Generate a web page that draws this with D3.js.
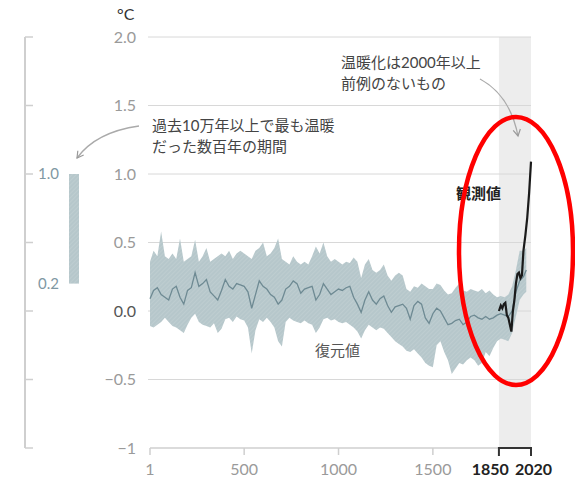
<!DOCTYPE html>
<html>
<head>
<meta charset="utf-8">
<script src="https://cdn.jsdelivr.net/npm/d3@7"></script>
<style>
  body { margin: 0; background: #fff; }
  svg text { font-family: Lato, "Noto Sans CJK JP", sans-serif; }
</style>
</head>
<body>
<div id="chart"></div>
<script>
// reconstruction (復元値): year, upper, median, lower
const years = [1, 20, 40, 60, 80, 100, 120, 140, 160, 180, 200, 220, 240, 260, 280, 300, 320, 340, 360, 380,
    400, 420, 440, 460, 480, 500, 520, 540, 560, 580, 600, 620, 640, 660, 680, 700, 720, 740, 760, 780,
    800, 820, 840, 860, 880, 900, 920, 940, 960, 980, 1000, 1020, 1040, 1060, 1080, 1100, 1120, 1140, 1160, 1180,
    1200, 1220, 1240, 1260, 1280, 1300, 1320, 1340, 1360, 1380, 1400, 1420, 1440, 1460, 1480, 1500, 1520, 1540, 1560, 1580,
    1600, 1620, 1640, 1660, 1680, 1700, 1720, 1740, 1760, 1780, 1800, 1820, 1840, 1860, 1880, 1900, 1920, 1940, 1960, 1980, 1995];
const upper = [0.36, 0.44, 0.40, 0.58, 0.40, 0.38, 0.42, 0.38, 0.53, 0.36, 0.38, 0.40, 0.52, 0.36, 0.40, 0.46, 0.36, 0.38, 0.40, 0.42,
    0.40, 0.44, 0.38, 0.42, 0.44, 0.42, 0.40, 0.38, 0.44, 0.46, 0.50, 0.40, 0.42, 0.46, 0.53, 0.38, 0.36, 0.34, 0.40, 0.36,
    0.34, 0.36, 0.34, 0.40, 0.47, 0.42, 0.50, 0.40, 0.36, 0.38, 0.36, 0.34, 0.36, 0.35, 0.39, 0.36, 0.24, 0.34, 0.38, 0.30,
    0.28, 0.30, 0.34, 0.26, 0.22, 0.26, 0.28, 0.26, 0.16, 0.14, 0.18, 0.17, 0.20, 0.18, 0.16, 0.16, 0.20, 0.19, 0.15, 0.12,
    0.13, 0.17, 0.20, 0.15, 0.14, 0.16, 0.15, 0.14, 0.16, 0.13, 0.15, 0.12, 0.10, 0.11, 0.10, 0.12, 0.18, 0.30, 0.44, 0.44, 0.46];
const median = [0.09, 0.15, 0.17, 0.12, 0.10, 0.08, 0.16, 0.18, 0.10, 0.05, 0.15, 0.17, 0.28, 0.18, 0.20, 0.23, 0.14, 0.11, 0.08, 0.15,
    0.23, 0.18, 0.16, 0.20, 0.19, 0.18, 0.14, 0.02, 0.12, 0.22, 0.18, 0.16, 0.12, 0.10, 0.05, 0.08, 0.16, 0.18, 0.22, 0.20,
    0.13, 0.16, 0.17, 0.18, 0.08, 0.12, 0.20, 0.16, 0.12, 0.14, 0.16, 0.15, 0.17, 0.18, 0.10, 0.05, -0.01, 0.08, 0.14, 0.08,
    0.05, 0.09, 0.11, 0.04, -0.01, 0.03, 0.04, 0.05, 0.02, -0.06, 0.04, 0.07, 0.05, -0.05, -0.09, -0.02, 0.02, 0.00, -0.05, -0.10,
    -0.09, -0.07, -0.06, -0.10, -0.08, -0.04, -0.03, -0.05, -0.06, -0.04, -0.06, -0.05, -0.03, -0.02, -0.03, -0.04, 0.00, 0.14, 0.22, 0.25, 0.30];
const lower = [-0.11, -0.12, -0.10, -0.08, -0.05, -0.08, -0.11, -0.12, -0.14, -0.16, -0.10, -0.05, -0.02, -0.08, -0.10, -0.11, -0.12, -0.09, -0.16, -0.13,
    -0.06, -0.05, -0.08, -0.04, -0.06, -0.07, -0.12, -0.31, -0.14, -0.06, -0.08, -0.05, -0.08, -0.12, -0.22, -0.26, -0.08, -0.05, -0.07, -0.08,
    -0.09, -0.07, -0.09, -0.10, -0.16, -0.12, -0.06, -0.05, -0.07, -0.06, -0.08, -0.09, -0.08, -0.10, -0.12, -0.15, -0.20, -0.14, -0.10, -0.12,
    -0.14, -0.12, -0.13, -0.16, -0.19, -0.22, -0.24, -0.26, -0.29, -0.30, -0.28, -0.31, -0.34, -0.38, -0.40, -0.41, -0.25, -0.22, -0.30, -0.36,
    -0.46, -0.42, -0.38, -0.39, -0.36, -0.34, -0.36, -0.40, -0.38, -0.30, -0.33, -0.27, -0.22, -0.20, -0.21, -0.22, -0.16, -0.04, 0.08, 0.12, 0.14];

// observed (観測値)
const obsYears = [1850, 1860, 1868, 1876, 1884, 1892, 1900, 1908, 1916, 1924, 1932, 1940, 1948, 1956, 1964, 1972, 1980, 1990, 2000, 2010, 2020];
const obsValues = [0.00, 0.04, 0.02, 0.05, 0.06, -0.03, -0.05, -0.10, -0.15, 0.00, 0.08, 0.20, 0.27, 0.28, 0.24, 0.26, 0.44, 0.55, 0.68, 0.86, 1.09];

const yTicks = [2.0, 1.5, 1.0, 0.5, 0.0, -0.5, -1];
const xTicks = [1, 500, 1000, 1500];
const modernRange = [1850, 2020];
const warmPeriod = [0.2, 1.0];

const width = 575, height = 477;

const svg = d3.select("#chart")
    .append("svg")
    .attr("width", width)
    .attr("height", height);

const x = d3.scaleLinear().domain([1, 2020]).range([150, 531]);
const y = d3.scaleLinear().domain([-1, 2]).range([448, 37]);

// hatched texture for the band
const defs = svg.append("defs");
const pat = defs.append("pattern")
    .attr("id", "hatch")
    .attr("patternUnits", "userSpaceOnUse")
    .attr("width", 3).attr("height", 3)
    .attr("patternTransform", "rotate(45)");
pat.append("rect").attr("width", 3).attr("height", 3).attr("fill", "#b6c7cb");
pat.append("line").attr("x1", 0).attr("y1", 0).attr("x2", 0).attr("y2", 3)
    .attr("stroke", "#c6d3d6").attr("stroke-width", 1);

// modern period shading
svg.append("rect")
    .attr("x", x(modernRange[0]))
    .attr("y", y(2))
    .attr("width", x(modernRange[1]) - x(modernRange[0]))
    .attr("height", y(-1) - y(2))
    .attr("fill", "#ededed");

// gridlines
svg.append("g")
    .selectAll("line")
    .data(yTicks.filter(d => d > -1))
    .join("line")
    .attr("x1", x(1) - 2)
    .attr("x2", x(2020))
    .attr("y1", d => y(d))
    .attr("y2", d => y(d))
    .attr("stroke", "#d8d8d8")
    .attr("stroke-width", 1);

// y labels
svg.append("g")
    .selectAll("text")
    .data(yTicks)
    .join("text")
    .attr("x", 136)
    .attr("y", d => y(d))
    .attr("dy", "0.36em")
    .attr("text-anchor", "end")
    .attr("font-size", 16)
    .attr("fill", d => d === 0 ? "#555" : "#9a9a9a")
    .text(d => d === -1 ? "\u22121" : (d < 0 ? "\u2212" : "") + Math.abs(d).toFixed(1));

svg.append("text")
    .attr("x", 117).attr("y", 20)
    .attr("font-size", 16)
    .attr("fill", "#333")
    .text("°C");

// reconstruction band + median
const recon = years.map((d, i) => ({ year: d, hi: upper[i], mid: median[i], lo: lower[i] }));

svg.append("path")
    .datum(recon)
    .attr("fill", "url(#hatch)")
    .attr("d", d3.area().x(d => x(d.year)).y0(d => y(d.lo)).y1(d => y(d.hi)));

svg.append("path")
    .datum(recon)
    .attr("fill", "none")
    .attr("stroke", "#6e8a93")
    .attr("stroke-width", 1.3)
    .attr("d", d3.line().x(d => x(d.year)).y(d => y(d.mid)));

// observed
svg.append("path")
    .datum(obsYears.map((d, i) => [d, obsValues[i]]))
    .attr("fill", "none")
    .attr("stroke", "#1a1a1a")
    .attr("stroke-width", 2.2)
    .attr("d", d3.line().x(d => x(d[0])).y(d => y(d[1])));

// bottom axis
svg.append("line")
    .attr("x1", x(1)).attr("x2", x(modernRange[0]))
    .attr("y1", y(-1)).attr("y2", y(-1))
    .attr("stroke", "#cfcfcf").attr("stroke-width", 1.5);

svg.append("g")
    .selectAll("line")
    .data(xTicks)
    .join("line")
    .attr("x1", d => x(d)).attr("x2", d => x(d))
    .attr("y1", y(-1)).attr("y2", y(-1) + 7)
    .attr("stroke", "#cfcfcf").attr("stroke-width", 1.5);

svg.append("path")
    .attr("d", `M${x(modernRange[0])},${y(-1) + 8}V${y(-1)}H${x(modernRange[1])}V${y(-1) + 8}`)
    .attr("fill", "none")
    .attr("stroke", "#333")
    .attr("stroke-width", 2);

svg.append("g")
    .selectAll("text")
    .data(xTicks)
    .join("text")
    .attr("x", d => x(d))
    .attr("y", 475)
    .attr("text-anchor", "middle")
    .attr("font-size", 16)
    .attr("fill", "#9a9a9a")
    .text(d => d);

svg.append("text")
    .attr("x", x(modernRange[0]) + 10).attr("y", 475)
    .attr("text-anchor", "end")
    .attr("font-size", 16).attr("font-weight", "bold").attr("fill", "#222")
    .text(modernRange[0]);

svg.append("text")
    .attr("x", x(modernRange[1]) - 16).attr("y", 475)
    .attr("text-anchor", "start")
    .attr("font-size", 16).attr("font-weight", "bold").attr("fill", "#222")
    .text(modernRange[1]);

// left scale (warmest centuries of the last 100k years)
svg.append("line")
    .attr("x1", 25).attr("x2", 25)
    .attr("y1", y(2)).attr("y2", y(-1))
    .attr("stroke", "#cfcfcf").attr("stroke-width", 2);

svg.append("g")
    .selectAll("line")
    .data(yTicks)
    .join("line")
    .attr("x1", 25).attr("x2", 33)
    .attr("y1", d => y(d)).attr("y2", d => y(d))
    .attr("stroke", "#cfcfcf").attr("stroke-width", 1.5);

svg.append("rect")
    .attr("x", 69).attr("width", 10)
    .attr("y", y(warmPeriod[1]))
    .attr("height", y(warmPeriod[0]) - y(warmPeriod[1]))
    .attr("fill", "url(#hatch)");

svg.append("g")
    .selectAll("text")
    .data(warmPeriod)
    .join("text")
    .attr("x", 38)
    .attr("y", d => y(d))
    .attr("dy", "0.36em")
    .attr("font-size", 15)
    .attr("fill", "#7f98a3")
    .text(d => d.toFixed(1));

// annotations
const note = svg.append("g").attr("font-size", 15).attr("fill", "#444");
note.append("text").attr("x", 152).attr("y", 131).text("過去10万年以上で最も温暖");
note.append("text").attr("x", 152).attr("y", 152).text("だった数百年の期間");
note.append("text").attr("x", 341).attr("y", 68).text("温暖化は2000年以上");
note.append("text").attr("x", 341).attr("y", 89).text("前例のないもの");

svg.append("text")
    .attr("x", 456).attr("y", 199)
    .attr("font-size", 15).attr("font-weight", "bold").attr("fill", "#222")
    .text("観測値");

svg.append("text")
    .attr("x", 315).attr("y", 356)
    .attr("font-size", 15).attr("fill", "#555")
    .text("復元値");

// arrows
defs.append("marker")
    .attr("id", "arrow")
    .attr("viewBox", "0 0 10 10")
    .attr("refX", 8).attr("refY", 5)
    .attr("markerWidth", 7).attr("markerHeight", 7)
    .attr("orient", "auto")
    .append("path")
    .attr("d", "M1,1L8,5L1,9")
    .attr("fill", "none")
    .attr("stroke", "#999")
    .attr("stroke-width", 1.3);

svg.append("path")
    .attr("d", "M139,126Q96,132 77,158")
    .attr("fill", "none").attr("stroke", "#aaa").attr("stroke-width", 1.3)
    .attr("marker-end", "url(#arrow)");

svg.append("path")
    .attr("d", "M480,79Q510,95 518,136")
    .attr("fill", "none").attr("stroke", "#aaa").attr("stroke-width", 1.3)
    .attr("marker-end", "url(#arrow)");

// red ellipse
svg.append("ellipse")
    .attr("cx", 516).attr("cy", 251)
    .attr("rx", 57).attr("ry", 134)
    .attr("fill", "none")
    .attr("stroke", "#ff0000")
    .attr("stroke-width", 4.5);
</script>
</body>
</html>
